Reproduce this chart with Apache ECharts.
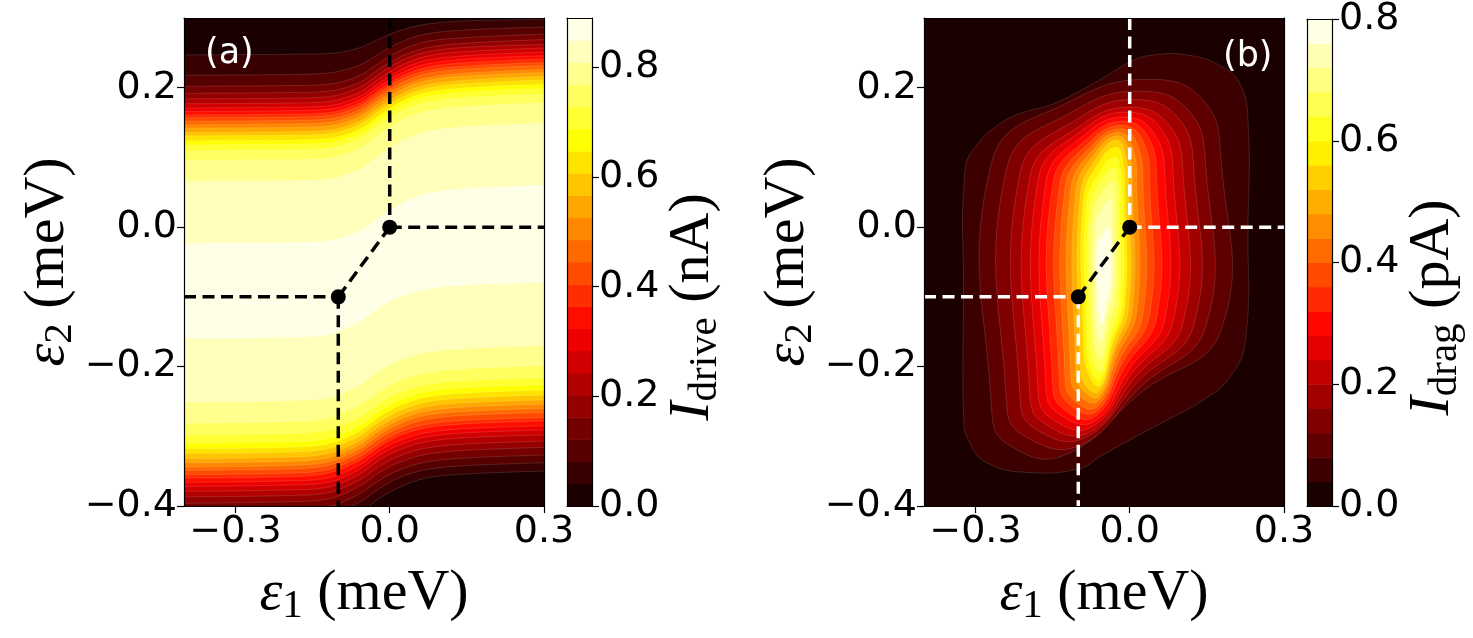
<!DOCTYPE html>
<html>
<head>
<meta charset="utf-8">
<title>I_drive / I_drag contour maps</title>
<script src="https://cdn.jsdelivr.net/npm/echarts@6/dist/echarts.min.js"></script>
<style>
  html, body { margin: 0; padding: 0; background: #fff; }
  #chart { width: 1473px; height: 638px; }
</style>
</head>
<body>
<div id="chart"></div>
<script>
// ============================================================
// Data
// ============================================================

// axis ticks
const xTicks = [-0.3, 0.0, 0.3];
const yTicks = [-0.4, -0.2, 0.0, 0.2];
const barTicks = [0.0, 0.2, 0.4, 0.6, 0.8];

// (a) I_drive contour levels (nA), 22 filled bands
const driveLevels = [0, 0.0405, 0.0809, 0.1214, 0.1618, 0.2023, 0.2427, 0.2832, 0.3236, 0.3641,
  0.4045, 0.4450, 0.4855, 0.5259, 0.5664, 0.6068, 0.6473, 0.6877, 0.7282, 0.7686, 0.8091, 0.8495, 0.8900];

// (a) contour lines sampled at these eps1 values
const contourX = [-0.4, -0.2, -0.12, -0.06, -0.02, 0.02, 0.07, 0.15, 0.3];

// upper flank: eps2 of contour k (k = 1..21, level driveLevels[k])
const driveTop = [
  [0.247, 0.248, 0.249, 0.257, 0.270, 0.282, 0.291, 0.296, 0.298],
  [0.218, 0.219, 0.221, 0.232, 0.249, 0.265, 0.277, 0.283, 0.287],
  [0.202, 0.203, 0.205, 0.217, 0.236, 0.253, 0.266, 0.272, 0.277],
  [0.192, 0.193, 0.195, 0.207, 0.227, 0.244, 0.257, 0.264, 0.269],
  [0.184, 0.185, 0.187, 0.200, 0.220, 0.238, 0.251, 0.258, 0.262],
  [0.177, 0.178, 0.180, 0.193, 0.213, 0.231, 0.245, 0.252, 0.257],
  [0.171, 0.172, 0.174, 0.187, 0.207, 0.225, 0.239, 0.246, 0.251],
  [0.166, 0.167, 0.169, 0.182, 0.202, 0.220, 0.234, 0.241, 0.246],
  [0.161, 0.162, 0.164, 0.177, 0.197, 0.215, 0.229, 0.236, 0.241],
  [0.157, 0.158, 0.160, 0.173, 0.193, 0.211, 0.224, 0.231, 0.236],
  [0.152, 0.153, 0.155, 0.168, 0.188, 0.206, 0.220, 0.227, 0.232],
  [0.147, 0.148, 0.150, 0.163, 0.183, 0.201, 0.214, 0.221, 0.226],
  [0.142, 0.143, 0.145, 0.158, 0.178, 0.196, 0.210, 0.217, 0.222],
  [0.136, 0.137, 0.139, 0.152, 0.172, 0.190, 0.204, 0.211, 0.216],
  [0.131, 0.132, 0.134, 0.147, 0.167, 0.185, 0.199, 0.206, 0.211],
  [0.124, 0.125, 0.127, 0.140, 0.160, 0.179, 0.193, 0.200, 0.205],
  [0.118, 0.119, 0.121, 0.134, 0.154, 0.173, 0.187, 0.194, 0.199],
  [0.110, 0.111, 0.113, 0.126, 0.146, 0.165, 0.179, 0.186, 0.191],
  [0.096, 0.097, 0.099, 0.112, 0.133, 0.152, 0.166, 0.173, 0.178],
  [0.066, 0.067, 0.069, 0.083, 0.103, 0.122, 0.137, 0.144, 0.149],
  [-0.023, -0.022, -0.020, -0.006, 0.014, 0.033, 0.048, 0.055, 0.060]
];

// lower flank: eps2 of contour k (k = 1..21)
const driveBottom = [
  [-0.437, -0.435, -0.430, -0.411, -0.389, -0.373, -0.360, -0.354, -0.350],
  [-0.420, -0.418, -0.413, -0.395, -0.375, -0.359, -0.348, -0.342, -0.338],
  [-0.407, -0.405, -0.401, -0.383, -0.363, -0.348, -0.337, -0.331, -0.327],
  [-0.396, -0.394, -0.390, -0.372, -0.352, -0.337, -0.326, -0.320, -0.316],
  [-0.387, -0.385, -0.381, -0.363, -0.343, -0.328, -0.317, -0.311, -0.307],
  [-0.379, -0.377, -0.373, -0.355, -0.334, -0.319, -0.308, -0.302, -0.298],
  [-0.372, -0.370, -0.366, -0.348, -0.327, -0.312, -0.301, -0.295, -0.291],
  [-0.366, -0.364, -0.360, -0.342, -0.321, -0.306, -0.295, -0.289, -0.285],
  [-0.360, -0.358, -0.353, -0.335, -0.315, -0.299, -0.288, -0.282, -0.278],
  [-0.355, -0.353, -0.348, -0.330, -0.310, -0.294, -0.283, -0.277, -0.273],
  [-0.349, -0.347, -0.342, -0.324, -0.303, -0.288, -0.276, -0.270, -0.266],
  [-0.344, -0.342, -0.337, -0.319, -0.298, -0.282, -0.270, -0.264, -0.260],
  [-0.338, -0.336, -0.331, -0.313, -0.292, -0.276, -0.264, -0.258, -0.254],
  [-0.332, -0.330, -0.325, -0.307, -0.286, -0.270, -0.258, -0.252, -0.248],
  [-0.325, -0.323, -0.318, -0.300, -0.279, -0.263, -0.251, -0.245, -0.241],
  [-0.318, -0.316, -0.311, -0.293, -0.272, -0.256, -0.244, -0.238, -0.234],
  [-0.310, -0.308, -0.303, -0.285, -0.264, -0.248, -0.236, -0.230, -0.226],
  [-0.298, -0.296, -0.291, -0.273, -0.253, -0.237, -0.226, -0.220, -0.216],
  [-0.281, -0.279, -0.274, -0.256, -0.236, -0.220, -0.209, -0.203, -0.199],
  [-0.251, -0.249, -0.245, -0.227, -0.206, -0.191, -0.180, -0.174, -0.170],
  [-0.160, -0.158, -0.154, -0.136, -0.115, -0.100, -0.089, -0.083, -0.079]
];

// (b) I_drag contour levels (pA), 20 filled bands
const dragLevels = [0, 0.04, 0.08, 0.12, 0.16, 0.20, 0.24, 0.28, 0.32, 0.36, 0.40,
  0.44, 0.48, 0.52, 0.56, 0.60, 0.64, 0.68, 0.72, 0.76, 0.80];

// (b) closed contours k = 1..19 as [eps1, eps2] outlines (clockwise from top)
const dragContours = [
  [[0.006, 0.239], [0.046, 0.247], [0.111, 0.247], [0.175, 0.232], [0.214, 0.206], [0.230, 0.153],
   [0.230, 0.000], [0.225, -0.162], [0.195, -0.215], [0.143, -0.248], [0.072, -0.277], [0.006, -0.303],
   [-0.058, -0.329], [-0.095, -0.346], [-0.194, -0.352], [-0.278, -0.338], [-0.314, -0.305], [-0.323, -0.272],
   [-0.323, -0.100], [-0.320, 0.082], [-0.295, 0.120], [-0.251, 0.149], [-0.213, 0.163], [-0.148, 0.177],
   [-0.083, 0.201], [-0.032, 0.223]],
  [[0.040, 0.212], [0.144, 0.181], [0.178, 0.094], [0.178, -0.147], [0.024, -0.236], [-0.130, -0.328], [-0.238, -0.311], [-0.268, -0.267], [-0.268, 0.094], [-0.114, 0.181]],
  [[0.020, 0.195], [0.116, 0.166], [0.148, 0.085], [0.148, -0.142], [0.024, -0.227], [-0.100, -0.314], [-0.208, -0.298], [-0.239, -0.256], [-0.239, 0.085], [-0.110, 0.166]],
  [[0.010, 0.183], [0.096, 0.155], [0.125, 0.078], [0.125, -0.139], [0.018, -0.220], [-0.090, -0.303], [-0.186, -0.288], [-0.213, -0.247], [-0.213, 0.078], [-0.102, 0.155]],
  [[0.000, 0.172], [0.078, 0.145], [0.104, 0.072], [0.104, -0.136], [0.012, -0.214], [-0.080, -0.295], [-0.169, -0.280], [-0.194, -0.241], [-0.194, 0.072], [-0.097, 0.145]],
  [[-0.005, 0.165], [0.063, 0.139], [0.085, 0.068], [0.085, -0.133], [0.005, -0.209], [-0.075, -0.287], [-0.155, -0.273], [-0.178, -0.235], [-0.178, 0.068], [-0.092, 0.139]],
  [[-0.010, 0.158], [0.049, 0.133], [0.069, 0.064], [0.069, -0.130], [0.000, -0.203], [-0.070, -0.279], [-0.143, -0.265], [-0.163, -0.229], [-0.163, 0.064], [-0.087, 0.133]],
  [[-0.012, 0.152], [0.037, 0.128], [0.053, 0.061], [0.053, -0.128], [-0.008, -0.199], [-0.068, -0.272], [-0.132, -0.259], [-0.150, -0.223], [-0.150, 0.061], [-0.081, 0.128]],
  [[-0.015, 0.146], [0.026, 0.123], [0.039, 0.058], [0.039, -0.125], [-0.014, -0.194], [-0.066, -0.265], [-0.121, -0.252], [-0.137, -0.218], [-0.137, 0.058], [-0.076, 0.123]],
  [[-0.017, 0.141], [0.015, 0.118], [0.026, 0.055], [0.026, -0.123], [-0.019, -0.189], [-0.064, -0.258], [-0.112, -0.246], [-0.126, -0.212], [-0.126, 0.055], [-0.072, 0.118]],
  [[-0.020, 0.136], [0.006, 0.114], [0.014, 0.052], [0.014, -0.120], [-0.024, -0.184], [-0.062, -0.250], [-0.103, -0.238], [-0.115, -0.206], [-0.115, 0.052], [-0.068, 0.114]],
  [[-0.022, 0.131], [-0.002, 0.109], [0.005, 0.050], [0.005, -0.118], [-0.028, -0.179], [-0.060, -0.243], [-0.095, -0.231], [-0.105, -0.201], [-0.105, 0.050], [-0.064, 0.109]],
  [[-0.024, 0.125], [-0.008, 0.104], [-0.002, 0.046], [-0.002, -0.115], [-0.031, -0.175], [-0.060, -0.236], [-0.088, -0.225], [-0.096, -0.195], [-0.096, 0.046], [-0.060, 0.104]],
  [[-0.026, 0.115], [-0.013, 0.095], [-0.009, 0.041], [-0.009, -0.112], [-0.034, -0.169], [-0.058, -0.228], [-0.082, -0.207], [-0.090, -0.157], [-0.090, 0.041], [-0.058, 0.095]],
  [[-0.028, 0.100], [-0.018, 0.082], [-0.014, 0.033], [-0.014, -0.109], [-0.036, -0.163], [-0.058, -0.219], [-0.078, -0.199], [-0.084, -0.151], [-0.084, 0.033], [-0.056, 0.082]],
  [[-0.030, 0.085], [-0.023, 0.069], [-0.020, 0.024], [-0.020, -0.105], [-0.038, -0.155], [-0.056, -0.207], [-0.073, -0.188], [-0.078, -0.144], [-0.078, 0.024], [-0.054, 0.069]],
  [[-0.033, 0.065], [-0.029, 0.051], [-0.027, 0.013], [-0.027, -0.099], [-0.042, -0.144], [-0.056, -0.190], [-0.068, -0.173], [-0.072, -0.134], [-0.072, 0.013], [-0.053, 0.051]],
  [[-0.037, 0.040], [-0.035, 0.029], [-0.034, 0.000], [-0.034, -0.090], [-0.045, -0.127], [-0.055, -0.165], [-0.063, -0.151], [-0.066, -0.119], [-0.066, 0.000], [-0.052, 0.029]],
  [[-0.041, 0.000], [-0.038, -0.008], [-0.037, -0.025], [-0.037, -0.080], [-0.046, -0.110], [-0.053, -0.140], [-0.059, -0.128], [-0.063, -0.100], [-0.063, -0.025], [-0.051, -0.008]]
];

// dashed charge-stability boundaries and triple points (same in both panels)
const guideSegments = [
  [[0.0, 0.3], [0.0, 0.0]],
  [[0.0, 0.0], [0.3, 0.0]],
  [[-0.4, -0.1], [-0.1, -0.1]],
  [[-0.1, -0.1], [-0.1, -0.4]]
];
const diagonalSegment = [[0.0, 0.0], [-0.1, -0.1]];
const triplePoints = [[0.0, 0.0], [-0.1, -0.1]];

// ============================================================
// Styling helpers
// ============================================================
// matplotlib "hot" colormap
function hotColor(t) {
  var r = t < 0.365079 ? 0.0416 + 0.9584 * t / 0.365079 : 1;
  var g = t < 0.365079 ? 0 : (t < 0.746032 ? (t - 0.365079) / 0.380953 : 1);
  var b = t < 0.746032 ? 0 : (t - 0.746032) / 0.253968;
  return 'rgb(' + Math.round(r * 255) + ',' + Math.round(g * 255) + ',' + Math.round(b * 255) + ')';
}
// colour of band k (between levels[k] and levels[k+1])
function bandColor(levels, k) {
  var top = levels[levels.length - 1];
  return hotColor((levels[k] + levels[k + 1]) / 2 / top);
}

const SEAM = 'rgba(255,255,255,0.22)';
const TICK_FONT = 'DejaVu Sans';
const MATH_FONT = 'Liberation Serif';

function tickText(v) {
  var s = Math.abs(v) < 1e-9 ? '0.0' : v.toFixed(1);
  return s.replace('-', '\u2212');
}

const mathRich = {
  it: { fontFamily: MATH_FONT, fontStyle: 'italic', fontSize: 58, color: '#000' },
  sub: { fontFamily: MATH_FONT, fontSize: 41, color: '#000', padding: [26, 0, 0, 0] },
  rm: { fontFamily: MATH_FONT, fontSize: 58, color: '#000' }
};

const frameLine = { show: true, onZero: false, lineStyle: { color: '#000', width: 1.2 } };

// labelled axis
function mainAxis(gridIndex, position, min, max, ticks, name, nameGap, namePadding) {
  return {
    type: 'value', gridIndex: gridIndex, position: position, min: min, max: max, z: 10,
    axisLine: frameLine,
    axisTick: { show: true, customValues: ticks, length: 7, lineStyle: { color: '#000', width: 1.2 } },
    axisLabel: {
      show: true, customValues: ticks, formatter: tickText, margin: 7,
      fontFamily: TICK_FONT, fontSize: 38, color: '#000'
    },
    splitLine: { show: false },
    name: name, nameLocation: 'middle', nameGap: nameGap,
    nameRotate: (position === 'left' || position === 'right') ? 90 : 0,
    nameTextStyle: { rich: mathRich, padding: namePadding || 0 }
  };
}
// bare frame side
function frameAxis(gridIndex, position, min, max) {
  return {
    type: 'value', gridIndex: gridIndex, position: position, min: min, max: max, z: 10,
    axisLine: frameLine, axisTick: { show: false }, axisLabel: { show: false },
    splitLine: { show: false }
  };
}

// ============================================================
// Series builders
// ============================================================
function driveContour(row, origin, color) {
  return {
    type: 'line', xAxisIndex: 0, yAxisIndex: 0,
    data: contourX.map(function (x, i) { return [x, row[i]]; }),
    smooth: 0.35, symbol: 'none', silent: true, clip: true,
    lineStyle: { color: SEAM, width: 0.6 },
    areaStyle: { color: color, opacity: 1, origin: origin }
  };
}

function colorbarSeries(xIdx, yIdx, levels) {
  return {
    type: 'custom', xAxisIndex: xIdx, yAxisIndex: yIdx, silent: true,
    data: levels.slice(1).map(function (v) { return [0.5, v]; }),
    renderItem: function (params, api) {
      var k = params.dataIndex;
      var p0 = api.coord([0, levels[k]]);
      var p1 = api.coord([1, levels[k + 1]]);
      return {
        type: 'rect',
        shape: { x: p0[0], y: p1[1], width: p1[0] - p0[0], height: p0[1] - p1[1] + 0.5 },
        style: { fill: bandColor(levels, k) }
      };
    }
  };
}

function guideSeries(xIdx, yIdx, color) {
  return guideSegments.map(function (seg) {
    return {
      type: 'line', xAxisIndex: xIdx, yAxisIndex: yIdx, data: seg, symbol: 'none', silent: true,
      lineStyle: { color: color, width: 3.5, type: [12, 6.5] }, z: 5
    };
  }).concat([
    {
      type: 'line', xAxisIndex: xIdx, yAxisIndex: yIdx, data: diagonalSegment, symbol: 'none', silent: true,
      lineStyle: { color: '#000', width: 3.5, type: [12, 6.5] }, z: 5
    },
    {
      type: 'scatter', xAxisIndex: xIdx, yAxisIndex: yIdx, data: triplePoints, symbolSize: 15, silent: true,
      itemStyle: { color: '#000', opacity: 1 }, z: 6
    }
  ]);
}

// ============================================================
// Build the option
// ============================================================
var series = [];

// (a): paint from the brightest band outwards
for (var k = driveTop.length; k >= 1; k--) {
  series.push(driveContour(driveTop[k - 1], 'end', bandColor(driveLevels, k - 1)));
  series.push(driveContour(driveBottom[k - 1], 'start', bandColor(driveLevels, k - 1)));
}
series = series.concat(guideSeries(0, 0, '#000'));
series.push(colorbarSeries(2, 3, driveLevels));

// (b): nested closed contours, outermost first
series.push({
  type: 'custom', xAxisIndex: 4, yAxisIndex: 4, silent: true, clip: true,
  data: dragContours.map(function (c) { return c[0]; }),
  renderItem: function (params, api) {
    var k = params.dataIndex;
    var pts = dragContours[k].map(function (p) { return api.coord(p); });
    return {
      type: 'polygon',
      shape: { points: pts, smooth: 0.45 },
      style: { fill: bandColor(dragLevels, k + 1), stroke: SEAM, lineWidth: 0.6 }
    };
  }
});
series = series.concat(guideSeries(4, 4, '#fff'));
series.push(colorbarSeries(6, 7, dragLevels));

var option = {
  animation: false,
  backgroundColor: '#fff',
  grid: [
    { left: 184, top: 18, width: 360, height: 488, show: true, borderWidth: 0,
      backgroundColor: bandColor(driveLevels, driveLevels.length - 2) },
    { left: 567, top: 18, width: 25, height: 488 },
    { left: 924, top: 18, width: 360, height: 488, show: true, borderWidth: 0,
      backgroundColor: bandColor(dragLevels, 0) },
    { left: 1307, top: 18, width: 25, height: 488 }
  ],
  xAxis: [
    mainAxis(0, 'bottom', -0.4, 0.3, xTicks, '{it|\u03b5}{sub|1}{rm| (meV)}', 54),
    frameAxis(0, 'top', -0.4, 0.3),
    frameAxis(1, 'bottom', 0, 1),
    frameAxis(1, 'top', 0, 1),
    mainAxis(2, 'bottom', -0.4, 0.3, xTicks, '{it|\u03b5}{sub|1}{rm| (meV)}', 54),
    frameAxis(2, 'top', -0.4, 0.3),
    frameAxis(3, 'bottom', 0, 1),
    frameAxis(3, 'top', 0, 1)
  ],
  yAxis: [
    mainAxis(0, 'left', -0.4, 0.3, yTicks, '{it|\u03b5}{sub|2}{rm| (meV)}', 98),
    frameAxis(0, 'right', -0.4, 0.3),
    frameAxis(1, 'left', 0, 0.89),
    mainAxis(1, 'right', 0, 0.89, barTicks, '{it|I}{sub|drive}{rm| (nA)}', 46, [0, 90, 0, 0]),
    mainAxis(2, 'left', -0.4, 0.3, yTicks, '{it|\u03b5}{sub|2}{rm| (meV)}', 98),
    frameAxis(2, 'right', -0.4, 0.3),
    frameAxis(3, 'left', 0, 0.8),
    mainAxis(3, 'right', 0, 0.8, barTicks, '{it|I}{sub|drag}{rm| (pA)}', 58, [0, 90, 0, 0])
  ],
  graphic: [
    { type: 'text', left: 205, top: 36, z: 20,
      style: { text: '(a)', fill: '#fff', font: '35px "DejaVu Sans"' } },
    { type: 'text', left: 1223, top: 39, z: 20,
      style: { text: '(b)', fill: '#fff', font: '35px "DejaVu Sans"' } }
  ],
  series: series
};

var chart = echarts.init(document.getElementById('chart'), null, { renderer: 'canvas' });
chart.setOption(option);
</script>
</body>
</html>
